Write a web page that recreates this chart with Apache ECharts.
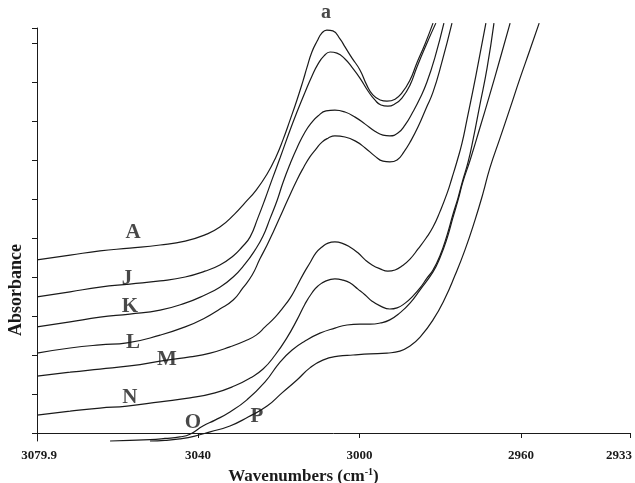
<!DOCTYPE html>
<html><head><meta charset="utf-8">
<script src="https://cdn.jsdelivr.net/npm/echarts@6/dist/echarts.min.js"></script>
<style>html,body{margin:0;padding:0;background:#fff}#c{width:635px;height:483px}</style>
</head><body><div id="c"></div>
<script>
// Wavenumber axis (reversed) and absorbance axis
const xMin = 2933, xMax = 3079.9;
const yMin = -0.0205, yMax = 1.0385;
const xTicks = [3079.9, 3040, 3000, 2960, 2933];
const yTicks = [0, 0.1, 0.2, 0.3, 0.4, 0.5, 0.6, 0.7, 0.8, 0.9, 1.0, 1.0385];

// Spectra [wavenumber, absorbance]
const curveA = [[3079.9,0.444],[3071.7,0.456],[3064.3,0.467],[3056.9,0.474],[3049.4,0.482],[3043.2,0.492],[3038.3,0.508],[3034.6,0.528],[3030.9,0.562],[3028.4,0.590],[3025.6,0.623],[3022.9,0.664],[3020.7,0.708],[3019.0,0.751],[3017.2,0.803],[3015.5,0.854],[3014.0,0.903],[3013.0,0.938],[3011.8,0.977],[3010.5,1.005],[3009.3,1.026],[3008.1,1.033],[3006.6,1.031],[3004.8,1.010],[3003.6,0.990],[3001.9,0.962],[2999.9,0.931],[2998.2,0.892],[2996.7,0.867],[2994.9,0.854],[2993.2,0.851],[2991.2,0.856],[2989.5,0.872],[2987.5,0.905],[2985.8,0.949],[2983.8,0.997],[2981.8,1.051]];
const curveJ = [[3079.9,0.349],[3071.7,0.362],[3064.3,0.374],[3056.9,0.382],[3049.4,0.390],[3043.2,0.400],[3038.3,0.415],[3034.6,0.431],[3031.3,0.454],[3029.1,0.477],[3027.1,0.503],[3025.2,0.551],[3023.4,0.600],[3021.7,0.649],[3019.7,0.705],[3017.2,0.777],[3015.5,0.823],[3013.5,0.874],[3011.8,0.915],[3010.3,0.946],[3008.8,0.967],[3007.3,0.977],[3005.6,0.974],[3003.6,0.959],[3001.9,0.938],[2999.9,0.910],[2997.9,0.877],[2996.2,0.854],[2994.7,0.841],[2993.0,0.838],[2991.2,0.844],[2989.5,0.859],[2987.5,0.892],[2985.8,0.938],[2983.5,0.995],[2981.1,1.051]];
const curveK = [[3079.9,0.272],[3071.7,0.285],[3064.3,0.297],[3056.9,0.305],[3049.4,0.315],[3043.2,0.333],[3038.3,0.354],[3034.6,0.374],[3031.3,0.400],[3028.4,0.433],[3025.9,0.469],[3023.9,0.505],[3022.2,0.549],[3020.4,0.597],[3019.0,0.641],[3017.2,0.690],[3015.5,0.731],[3013.5,0.772],[3011.8,0.797],[3010.3,0.813],[3008.3,0.826],[3006.1,0.828],[3003.6,0.823],[3001.1,0.810],[2998.6,0.792],[2996.2,0.774],[2994.2,0.764],[2992.5,0.762],[2990.5,0.769],[2988.7,0.790],[2986.8,0.823],[2985.0,0.859],[2983.3,0.900],[2981.3,0.964],[2979.1,1.051]];
const curveL = [[3079.9,0.205],[3071.7,0.218],[3064.3,0.226],[3057.6,0.231],[3049.4,0.251],[3043.2,0.272],[3038.3,0.295],[3034.6,0.318],[3031.3,0.341],[3028.9,0.372],[3026.6,0.405],[3024.7,0.446],[3022.9,0.482],[3021.4,0.515],[3019.7,0.554],[3017.7,0.600],[3015.5,0.649],[3013.8,0.682],[3012.3,0.708],[3010.8,0.728],[3009.3,0.746],[3007.8,0.756],[3006.1,0.762],[3003.6,0.759],[3001.1,0.749],[2998.6,0.731],[2996.2,0.710],[2994.2,0.697],[2992.5,0.695],[2990.7,0.700],[2989.0,0.721],[2987.3,0.749],[2985.5,0.785],[2983.5,0.833],[2981.8,0.874],[2979.6,0.951],[2977.1,1.051]];
const curveM = [[3079.9,0.146],[3071.7,0.156],[3064.3,0.164],[3056.9,0.172],[3047.7,0.187],[3042.0,0.195],[3037.0,0.205],[3032.1,0.221],[3028.4,0.236],[3025.6,0.251],[3023.4,0.272],[3020.9,0.297],[3019.0,0.321],[3017.2,0.346],[3015.5,0.377],[3013.8,0.410],[3012.3,0.436],[3010.8,0.462],[3009.3,0.477],[3007.8,0.487],[3006.1,0.490],[3004.4,0.487],[3002.4,0.477],[3000.4,0.462],[2998.6,0.444],[2996.9,0.431],[2994.9,0.421],[2993.0,0.415],[2991.2,0.418],[2989.5,0.428],[2987.5,0.446],[2985.5,0.472],[2983.5,0.500],[2981.8,0.528],[2980.1,0.567],[2978.3,0.615],[2977.1,0.654],[2975.9,0.695],[2974.6,0.744],[2973.4,0.803],[2971.2,0.915],[2968.7,1.051]];
const curveN = [[3079.9,0.046],[3071.7,0.056],[3064.3,0.064],[3057.6,0.069],[3049.4,0.080],[3042.0,0.090],[3035.8,0.103],[3030.9,0.121],[3027.1,0.141],[3023.9,0.164],[3020.9,0.200],[3018.0,0.244],[3015.5,0.290],[3013.5,0.331],[3011.8,0.359],[3010.3,0.377],[3008.3,0.390],[3006.1,0.395],[3004.1,0.392],[3002.4,0.385],[3000.4,0.369],[2998.6,0.354],[2996.9,0.338],[2994.9,0.326],[2992.5,0.318],[2990.7,0.321],[2988.7,0.333],[2986.8,0.351],[2985.0,0.372],[2983.3,0.397],[2981.8,0.418],[2980.1,0.454],[2978.3,0.508],[2976.9,0.559],[2975.6,0.603],[2974.4,0.649],[2973.1,0.695],[2971.9,0.751],[2970.2,0.841],[2968.4,0.936],[2966.7,1.051]];
const curveO = [[3061.8,-0.0205],[3056.9,-0.019],[3051.9,-0.017],[3048.2,-0.014],[3044.5,-0.010],[3042.0,-0.003],[3038.8,0.018],[3035.8,0.033],[3032.1,0.054],[3027.9,0.085],[3023.4,0.131],[3019.7,0.182],[3016.7,0.213],[3013.5,0.236],[3009.8,0.256],[3006.1,0.269],[3003.1,0.277],[2999.9,0.279],[2997.4,0.279],[2994.9,0.282],[2992.5,0.290],[2990.0,0.308],[2987.5,0.333],[2985.0,0.367],[2981.8,0.413],[2980.1,0.449],[2978.3,0.500],[2976.9,0.551],[2975.6,0.597],[2974.4,0.644],[2972.6,0.700],[2970.2,0.782],[2967.7,0.869],[2965.2,0.959],[2962.7,1.051]];
const curveP = [[3051.9,-0.0205],[3048.2,-0.019],[3044.5,-0.015],[3040.8,-0.008],[3037.0,0.003],[3032.1,0.018],[3027.6,0.041],[3022.9,0.069],[3019.2,0.103],[3015.5,0.136],[3012.3,0.167],[3009.1,0.187],[3005.3,0.197],[3001.6,0.200],[2997.4,0.203],[2993.2,0.205],[2990.0,0.210],[2987.5,0.223],[2985.0,0.246],[2981.8,0.290],[2978.8,0.346],[2976.4,0.403],[2973.9,0.469],[2971.4,0.546],[2969.4,0.615],[2967.7,0.680],[2965.2,0.756],[2962.7,0.833],[2960.3,0.908],[2957.8,0.982],[2955.5,1.051]];

const curveNames = ['A','J','K','L','M','N','O','P'];
const curves = [curveA, curveJ, curveK, curveL, curveM, curveN, curveO, curveP];

// Curve letters placed at data coordinates
const letterNames = ['A','J','K','L','M','N','O','P'];
const letterPos = [[3056.1,0.513],[3057.6,0.397],[3056.9,0.323],[3056.1,0.233],[3047.7,0.187],[3056.9,0.090],[3041.3,0.028],[3025.4,0.041]];
const peakName = 'a';
const peakPos = [3008.3,1.077];

const serif = '"Liberation Serif","DejaVu Serif",serif';
const ink = '#1a1a1a';

const series = curves.map((d, i) => ({
  name: curveNames[i], type: 'line', data: d, smooth: 0.5, symbol: 'none', clip: false,
  lineStyle: { color: ink, width: 1.2 }, silent: true, z: 2
}));
series.push({
  type: 'scatter', clip: false, symbolSize: 1, itemStyle: { color: 'transparent' }, z: 5,
  data: letterNames.map((n, i) => ({ name: n, value: letterPos[i] })),
  label: { show: true, position: 'inside', formatter: '{b}', color: ink,
    fontFamily: serif, fontWeight: 'bold', fontSize: 21 }
});
series.push({
  type: 'scatter', clip: false, symbolSize: 1, itemStyle: { color: 'transparent' }, z: 5,
  data: [{ name: peakName, value: peakPos }],
  label: { show: true, position: 'inside', formatter: '{b}', color: ink,
    fontFamily: serif, fontWeight: 'bold', fontSize: 20 }
});

const tickFont = { fontFamily: serif, fontWeight: 'bold', fontSize: 13, color: ink };

function tickFormatter(v) {
  if (v === xMin) return '{e|' + v + '}';
  if (v === xMax) return '{s|' + v + '}';
  return '{t|' + v + '}';
}

const chart = echarts.init(document.getElementById('c'), null, { renderer: 'canvas' });
chart.setOption({
  backgroundColor: '#fff',
  animation: false,
  grid: { left: 37, right: 5, top: 28, bottom: 42, containLabel: false, outerBoundsMode: 'none' },
  xAxis: {
    type: 'value', inverse: true, min: xMin, max: xMax,
    name: 'Wavenumbers (cm{sup|-1})', nameLocation: 'middle', nameGap: 26,
    nameTextStyle: { fontFamily: serif, fontWeight: 'bold', fontSize: 17, color: ink, padding: [0, 60, 0, 0],
      rich: { sup: { fontFamily: serif, fontWeight: 'bold', fontSize: 10, color: ink, padding: [0, 0, 9, 0] } } },
    axisLine: { show: true, lineStyle: { color: ink, width: 1 } },
    axisTick: { show: true, length: 5, lineStyle: { color: ink }, customValues: xTicks },
    axisLabel: Object.assign({ show: true, customValues: xTicks, margin: 8, align: 'center',
      formatter: tickFormatter,
      rich: {
        t: Object.assign({}, tickFont),
        e: Object.assign({ padding: [0, 22, 0, 0] }, tickFont),
        s: Object.assign({ padding: [0, 0, 0, 4] }, tickFont)
      } }, tickFont),
    splitLine: { show: false }
  },
  yAxis: {
    type: 'value', min: yMin, max: yMax,
    name: 'Absorbance', nameLocation: 'middle', nameGap: 12,
    nameTextStyle: { fontFamily: serif, fontWeight: 'bold', fontSize: 18, color: ink, padding: [0, 111, 0, 0] },
    axisLine: { show: true, lineStyle: { color: ink, width: 1 } },
    axisTick: { show: true, length: 5, lineStyle: { color: ink }, customValues: yTicks },
    axisLabel: { show: false },
    splitLine: { show: false }
  },
  series
});
</script></body></html>
